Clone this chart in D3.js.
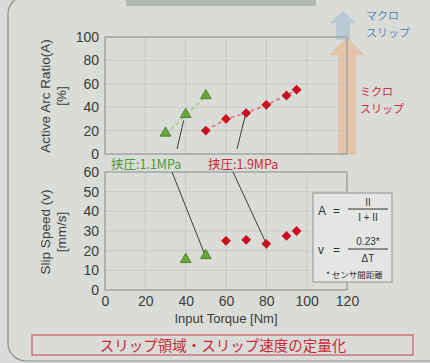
<!DOCTYPE html>
<html>
<head>
<meta charset="utf-8">
<script src="https://cdn.jsdelivr.net/npm/d3@7"></script>
<style>
  body { margin: 0; background: #d9dcd8; }
  svg { display: block; }
  text { font-family: "Liberation Sans", Arial, "Noto Sans CJK JP", sans-serif; }
  .jp { font-family: "Noto Sans CJK JP", sans-serif; }
</style>
</head>
<body>
<div id="chart"></div>
<script>
// data
var torqueLow = [30, 40, 50];
var arcLow = [17, 33, 49];
var torqueHigh = [50, 60, 70, 80, 90, 95];
var arcHigh = [20, 30, 35, 42, 50, 55];

var slipTorqueLow = [40, 50];
var slipLow = [15, 17];
var slipTorqueHigh = [60, 70, 80, 90, 95];
var slipHigh = [25, 25.5, 23.5, 27.5, 30];

var xTicks = [0, 20, 40, 60, 80, 100, 120];
var arcTicks = [0, 20, 40, 60, 80, 100];
var slipTicks = [0, 10, 20, 30, 40, 50, 60];

var W = 430, H = 363;
var red = "#c8101e", greenTxt = "#4c9a3c", redTxt = "#c8283a";

var svg = d3.select("#chart").append("svg")
    .attr("width", W).attr("height", H);

// slide background + panel border
svg.append("rect").attr("width", W).attr("height", H).attr("fill", "#d9dcd8");
svg.append("rect")
    .attr("x", 8).attr("y", -4).attr("width", 460).attr("height", 365)
    .attr("rx", 18)
    .attr("fill", "#dadcd8").attr("stroke", "#8d918d").attr("stroke-width", 1.2);
// cut-off title bar
svg.append("rect").attr("x", 126).attr("y", -10).attr("width", 190).attr("height", 16)
    .attr("fill", "#b4b8b3");

// scales
var x = d3.scaleLinear().domain([0, 120]).range([105, 347]);
var yA = d3.scaleLinear().domain([0, 100]).range([154, 37]);
var yV = d3.scaleLinear().domain([0, 60]).range([290, 172]);

// arrows on the right
function upArrow(cx, top, headH, bottom, headW, shaftW) {
  return "M" + cx + "," + top +
    "L" + (cx + headW / 2) + "," + (top + headH) +
    "L" + (cx + shaftW / 2) + "," + (top + headH) +
    "L" + (cx + shaftW / 2) + "," + bottom +
    "L" + (cx - shaftW / 2) + "," + bottom +
    "L" + (cx - shaftW / 2) + "," + (top + headH) +
    "L" + (cx - headW / 2) + "," + (top + headH) + "Z";
}
svg.append("path").attr("d", upArrow(343, 11, 12, 40, 26, 14)).attr("fill", "#b9cad6");
svg.append("path").attr("d", upArrow(347, 37, 18, 155, 35, 18)).attr("fill", "#e2c4aa");

svg.append("text").attr("class", "jp").attr("x", 366).attr("y", 20)
    .attr("font-size", 11).attr("fill", "#5b87b5").text("マクロ");
svg.append("text").attr("class", "jp").attr("x", 366).attr("y", 37)
    .attr("font-size", 11).attr("fill", "#5b87b5").text("スリップ");
svg.append("text").attr("class", "jp").attr("x", 360).attr("y", 96)
    .attr("font-size", 11).attr("fill", redTxt).text("ミクロ");
svg.append("text").attr("class", "jp").attr("x", 360).attr("y", 113)
    .attr("font-size", 11).attr("fill", redTxt).text("スリップ");

// plot frames with grid
function drawFrame(y, ticks, showX) {
  var g = svg.append("g");
  g.selectAll(".vg").data(xTicks).enter().append("line")
    .attr("x1", d => x(d)).attr("x2", d => x(d))
    .attr("y1", y.range()[1]).attr("y2", y.range()[0])
    .attr("stroke", "#c6c9c5").attr("stroke-width", 1);
  g.selectAll(".hg").data(ticks).enter().append("line")
    .attr("x1", x(0)).attr("x2", x(120))
    .attr("y1", d => y(d)).attr("y2", d => y(d))
    .attr("stroke", "#c6c9c5").attr("stroke-width", 1);
  g.append("rect")
    .attr("x", x(0)).attr("y", y.range()[1])
    .attr("width", x(120) - x(0)).attr("height", y.range()[0] - y.range()[1])
    .attr("fill", "none").attr("stroke", "#9a9d99").attr("stroke-width", 1.2);

  var ya = g.append("g").attr("transform", "translate(" + x(0) + ",0)")
    .call(d3.axisLeft(y).tickValues(ticks).tickSize(0).tickPadding(6));
  ya.select(".domain").remove();
  ya.selectAll("text").attr("font-size", 14).attr("fill", "#3a3c3a")
    .attr("font-family", "Liberation Sans, Arial, sans-serif");

  if (showX) {
    var xa = g.append("g").attr("transform", "translate(0," + y.range()[0] + ")")
      .call(d3.axisBottom(x).tickValues(xTicks).tickSize(0).tickPadding(6));
    xa.select(".domain").remove();
    xa.selectAll("text").attr("font-size", 14).attr("fill", "#3a3c3a")
      .attr("font-family", "Liberation Sans, Arial, sans-serif");
  }
}
drawFrame(yA, arcTicks, false);
drawFrame(yV, slipTicks, true);

// axis titles
function yTitle(lines, cy) {
  var t = svg.append("text").attr("transform", "translate(0," + cy + ") rotate(-90)")
    .attr("text-anchor", "middle").attr("font-size", 13.5).attr("fill", "#3a3c3a");
  t.append("tspan").attr("x", 0).attr("y", 50).text(lines[0]);
  t.append("tspan").attr("x", 0).attr("y", 66).text(lines[1]);
}
yTitle(["Active Arc Ratio(A)", "[%]"], 96);
yTitle(["Slip Speed (v)", "[mm/s]"], 232);

svg.append("text").attr("x", 226).attr("y", 323).attr("text-anchor", "middle")
    .attr("font-size", 13).attr("fill", "#3a3c3a").text("Input Torque [Nm]");

// leader lines (drawn under markers)
var lead = svg.append("g").attr("stroke", "#3c3e3c").attr("stroke-width", 1);
lead.append("line").attr("x1", 177).attr("y1", 149).attr("x2", x(40) - 2).attr("y2", yA(33) + 5);
lead.append("line").attr("x1", 172).attr("y1", 172).attr("x2", x(50) - 1).attr("y2", yV(17) - 2);
lead.append("line").attr("x1", 237).attr("y1", 149).attr("x2", x(70) - 1).attr("y2", yA(35) + 3);
lead.append("line").attr("x1", 233).attr("y1", 172).attr("x2", x(80)).attr("y2", yV(23.5));

// dashed connectors in the top chart
var lineA = d3.line().x(d => x(d[0])).y(d => yA(d[1]));
svg.append("path").datum(d3.zip(torqueLow, arcLow)).attr("d", lineA)
    .attr("fill", "none").attr("stroke", "#a8cf82").attr("stroke-width", 1.6)
    .attr("stroke-dasharray", "4,3");
svg.append("path").datum(d3.zip(torqueHigh, arcHigh)).attr("d", lineA)
    .attr("fill", "none").attr("stroke", "#e0707c").attr("stroke-width", 1.6)
    .attr("stroke-dasharray", "4,3");

var tri = d3.symbol().type(d3.symbolTriangle).size(50);
var sq = d3.symbol().type(d3.symbolSquare).size(48);

function triangles(xs, ys, y) {
  svg.append("g").selectAll("path").data(d3.zip(xs, ys)).enter().append("path")
    .attr("d", tri)
    .attr("transform", d => "translate(" + x(d[0]) + "," + (y(d[1]) - 1) + ")")
    .attr("fill", "#6aa63a").attr("stroke", "#3f7a22").attr("stroke-width", 0.8);
}
function diamonds(xs, ys, y) {
  svg.append("g").selectAll("path").data(d3.zip(xs, ys)).enter().append("path")
    .attr("d", sq)
    .attr("transform", d => "translate(" + x(d[0]) + "," + y(d[1]) + ") rotate(45)")
    .attr("fill", red);
}
triangles(torqueLow, arcLow, yA);
diamonds(torqueHigh, arcHigh, yA);
triangles(slipTorqueLow, slipLow, yV);
diamonds(slipTorqueHigh, slipHigh, yV);

// series labels
svg.append("text").attr("class", "jp").attr("x", 111).attr("y", 169)
    .attr("font-size", 12.5).attr("fill", greenTxt).text("挟圧:1.1MPa");
svg.append("text").attr("class", "jp").attr("x", 208).attr("y", 169)
    .attr("font-size", 12.5).attr("fill", redTxt).text("挟圧:1.9MPa");

// formula box
var fb = svg.append("g").attr("fill", "#333");
fb.append("rect").attr("x", 313).attr("y", 193).attr("width", 79).attr("height", 89)
    .attr("fill", "#e4e6e3").attr("stroke", "#8f928e").attr("stroke-width", 1);
fb.append("text").attr("x", 318).attr("y", 215).attr("font-size", 12).text("A");
fb.append("text").attr("x", 333).attr("y", 215).attr("font-size", 12).text("=");
fb.append("text").attr("x", 368).attr("y", 206).attr("font-size", 10).attr("text-anchor", "middle").text("II");
fb.append("line").attr("x1", 348).attr("x2", 388).attr("y1", 209).attr("y2", 209).attr("stroke", "#333");
fb.append("text").attr("x", 368).attr("y", 221).attr("font-size", 10).attr("text-anchor", "middle").text("I + II");
fb.append("text").attr("x", 318).attr("y", 254).attr("font-size", 12).text("v");
fb.append("text").attr("x", 333).attr("y", 254).attr("font-size", 12).text("=");
fb.append("text").attr("x", 368).attr("y", 245).attr("font-size", 10).attr("text-anchor", "middle").text("0.23*");
fb.append("line").attr("x1", 348).attr("x2", 388).attr("y1", 249).attr("y2", 249).attr("stroke", "#333");
fb.append("text").attr("x", 368).attr("y", 262).attr("font-size", 10).attr("text-anchor", "middle").text("ΔT");
fb.append("text").attr("class", "jp").attr("x", 326).attr("y", 278).attr("font-size", 8.5).text("* センサ間距離");

// bottom caption
svg.append("rect").attr("x", 32).attr("y", 335).attr("width", 381).attr("height", 20)
    .attr("fill", "none").attr("stroke", "#c04050").attr("stroke-width", 1);
svg.append("text").attr("class", "jp").attr("x", 223).attr("y", 350.5).attr("text-anchor", "middle")
    .attr("font-size", 14.5).attr("fill", redTxt).text("スリップ領域・スリップ速度の定量化");
</script>
</body>
</html>
